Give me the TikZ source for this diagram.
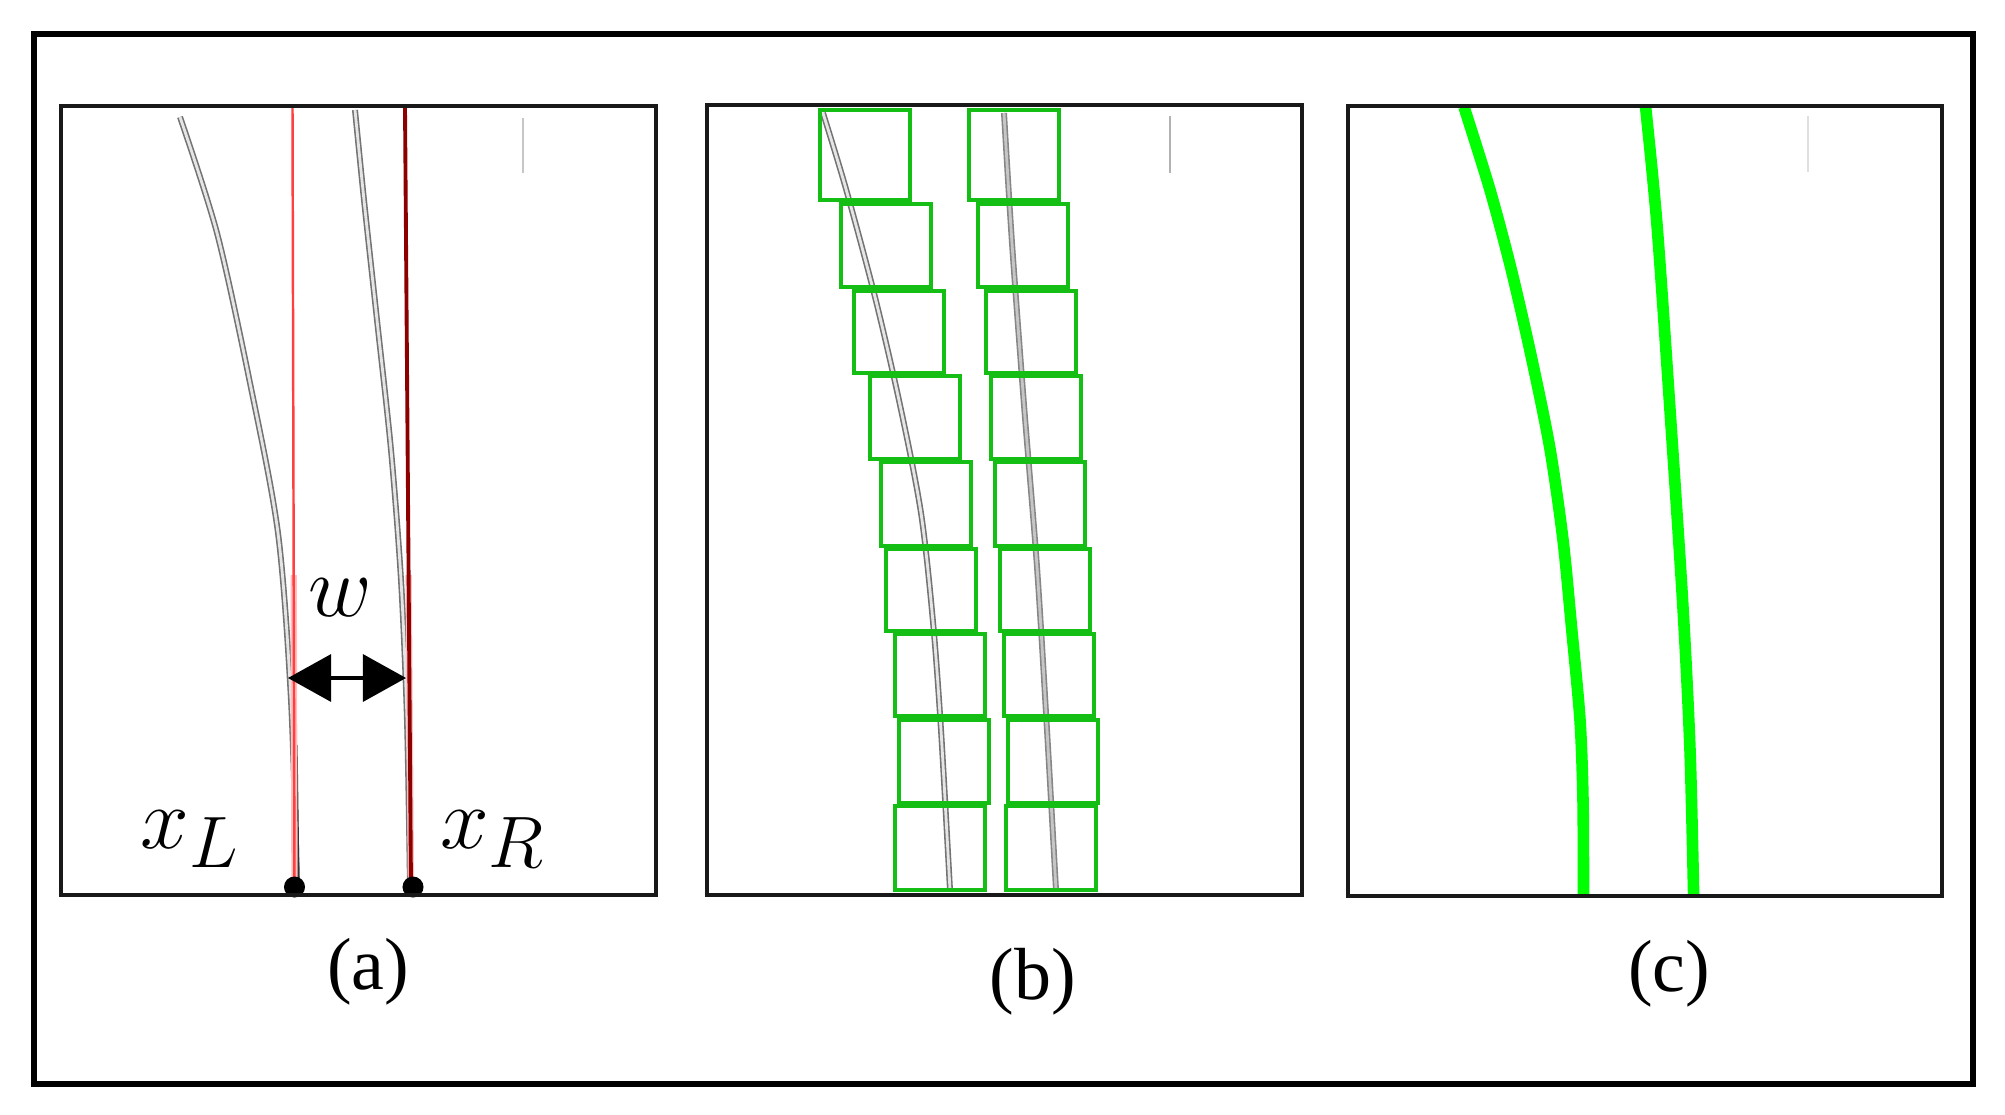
\documentclass[tikz,border=0pt]{standalone}
\usepackage{fontspec}
\setmainfont{Liberation Serif}
\usetikzlibrary{arrows.meta, calc}
\definecolor{boxgreen}{RGB}{20,190,20}
\definecolor{trackgray}{RGB}{115,115,115}
\tikzstyle{panel} = [draw=black!90, 
line width=1.15pt]
\tikzstyle{caption} = [inner sep=0pt, 
font=\fontsize{21}{24}\selectfont]
\tikzstyle{mathlabel} = [inner sep=0pt, 
font=\fontsize{28}{30}\selectfont]
\tikzstyle{track} = [draw=trackgray, 
double=white!80!gray, 
line width=0.45pt, 
double distance=0.8pt]
\tikzstyle{window} = [draw=boxgreen, 
line width=1.2pt]
\tikzstyle{lane} = [draw=green, 
line width=3.3pt]
\tikzstyle{endpoint} = [circle, 
fill=black, 
inner sep=0pt, 
minimum size=0.21cm]
\tikzstyle{tick} = [line width=0.6pt]
\tikzstyle{arrow} = [line width=0.9pt, {Triangle[length=0.43cm,width=0.47cm]}-{Triangle[length=0.43cm,width=0.47cm]}]

\begin{document}
\begin{tikzpicture}[x=0.01cm, y=-0.01cm]
		\useasboundingbox (0,0) rectangle (2005,1115);
		\fill[white] (0,0) rectangle (2005,1115);
		\draw[line width=1.45pt] (34,34) rectangle (1973,1084);
		% (a)
		\draw[track] plot[smooth] coordinates {(180,117) (217,233) (250,383) (278,533) (291,700) (297,886)};
		\draw[track] plot[smooth] coordinates {(355,110) (364,200) (377,320) (391,450) (401,580) (407,720) (410,886)};
		\draw[black!80, line width=0.9pt] (296,745) -- (298,886);
		\coordinate (lt) at (292.5,107);
		\coordinate (lb) at (294.5,887);
		\coordinate (rt) at (405,107);
		\coordinate (rb) at (411,887);
		\draw[red!25, line width=1.8pt] ($(lt)!0.6!(lb)$) -- (lb);
		\draw[red!25, line width=1.8pt] ($(rt)!0.6!(rb)$) -- (rb);
		\draw[red!75, line width=0.7pt] (lt) -- (lb);
		\draw[red!55!black, line width=1.1pt] (rt) -- (rb);
		\node[endpoint] (xLdot) at (lb) {};
		\node[endpoint] (xRdot) at (413,887) {};
		\coordinate (wl) at (288,678);
		\coordinate (wr) at (406,678);
		\draw[arrow] (wl) -- (wr);
		\node[mathlabel] (wlab) at (340,598) {$w$};
		\node[mathlabel, anchor=base] (xLlab) at (190,848) {$x_L$};
		\node[mathlabel, anchor=base] (xRlab) at (493,848) {$x_R$};
		\draw[tick, gray!45] (523,118) -- (523,173);
		\draw[panel] (61,106) rectangle (656,895);
		\node[caption] (capa) at (368,972) {(a)};
		% (b)
		\draw[track] plot[smooth] coordinates {(823,113) (846,189) (875,297) (900,405) (921,513) (933,622) (941,730) (950,890)};
		\draw[track, draw=gray!95, double=gray!45] plot[smooth] coordinates {(1004,113) (1012,243) (1024,405) (1037,567) (1047,730) (1056,890)};
		\foreach \xa/\xb/\ya/\yb in {820/969/110/200, 841/978/204/287, 854/986/291/373, 870/991/376/459, 881/995/462/546, 886/1000/549/631, 895/1004/634/716, 899/1008/720/803, 895/1006/806/890}
		{
			\draw[window] (\xa,\ya) rectangle ({\xa+90},\yb);
			\draw[window] (\xb,\ya) rectangle ({\xb+90},\yb);
		}
		\draw[tick, gray!60] (1170,116) -- (1170,173);
		\draw[panel] (707,105) rectangle (1302,895);
		\node[caption] (capb) at (1033,982) {(b)};
		% (c)
		\draw[lane] plot[smooth] coordinates {(1464,107) (1490,190) (1511.6,271) (1532,360) (1550,449) (1563,540) (1571.5,627) (1580,720) (1583,800) (1583.5,894)};
		\draw[lane] plot[smooth] coordinates {(1645.6,107) (1657,225) (1670,410) (1683,608) (1690,750) (1693.6,894)};
		\draw[tick, gray!25] (1808,116) -- (1808,172);
		\draw[panel] (1348,106) rectangle (1942,896);
		\node[caption] (capc) at (1669,974) {(c)};
	\end{tikzpicture}
\end{document}
